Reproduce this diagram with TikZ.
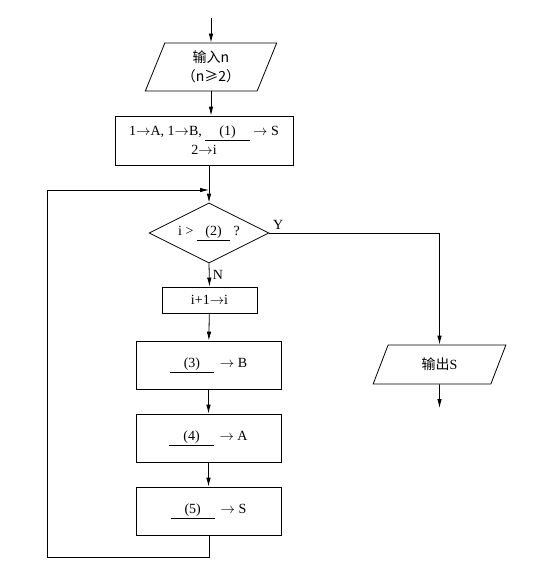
\documentclass[tikz,border=0pt]{standalone}
\usepackage{fontspec}
\setmainfont{Liberation Serif}
\newfontfamily\cjk{Noto Sans CJK SC}
\usetikzlibrary{arrows.meta,shapes.geometric}

\newcommand{\blank}[2][1em]{\underline{\hspace{#1}#2\hspace{#1}}}

\begin{document}
\begin{tikzpicture}[x=1pt,y=-1pt,line width=0.8pt,
	>={Latex[length=9pt,width=4.5pt]},
	font=\fontsize{14}{19}\selectfont,
	box/.style={draw,rectangle,inner sep=0pt,align=center},
	io/.style={draw,trapezium,trapezium stretches=true,inner sep=0pt,align=center},
	test/.style={draw,diamond,shape aspect=2,inner sep=0pt}]
	\useasboundingbox (0,0) rectangle (542,570);
	%
	\coordinate (start) at (211,18);
	\node[io,trapezium left angle=69,trapezium right angle=111,
		minimum width=132pt,minimum height=48pt] (in) at (211,67)
		{{\cjk 输入n}\\{\cjk （n≥2）}};
	\node[box,minimum width=178pt,minimum height=49pt] (init) at (204,140.5)
		{1$\to$A, 1$\to$B, \blank{(1)} $\to$ S\\2$\to$i};
	\coordinate (merge) at (209,190);
	\node[test,minimum width=120pt,minimum height=60pt] (test) at (209,233)
		{i > \blank[0.6em]{(2)} ?};
	\node[box,minimum width=95pt,minimum height=26pt] (step) at (209.5,300) {i+1$\to$i};
	\node[box,minimum width=145pt,minimum height=48pt] (upb) at (208.5,365) {\blank{(3)} \,$\to$ B};
	\node[box,minimum width=145pt,minimum height=48pt] (upa) at (208.5,438) {\blank{(4)} \,$\to$ A};
	\node[box,minimum width=145pt,minimum height=48pt] (ups) at (208.5,511) {\blank{(5)} \,$\to$ S};
	\coordinate (back) at (47,557);
	\node[io,trapezium left angle=68,trapezium right angle=112,
		minimum width=133pt,minimum height=39pt] (out) at (439.5,364.5)
		{{\cjk 输出}S};
	\coordinate (stop) at (439.5,408);
	%
	\draw[->] (start) -- (in);
	\draw[->] (in.south) -- (in.south |- init.north);
	\draw[->] (init.south -| test.north) -- (test.north);
	\draw[->] (test.south) -- node[right]{N} (step.north);
	\draw[->] (step) -- (upb);
	\draw[->] (upb) -- (upa);
	\draw[->] (upa) -- (ups);
	\draw[->] (ups.south -| merge) -- (merge |- back) -- (back) |- (merge);
	\draw[->] (test.east) -| (out.north);
	\node[above right] at (test.east) {Y};
	\draw[->] (out) -- (stop);
\end{tikzpicture}
\end{document}
